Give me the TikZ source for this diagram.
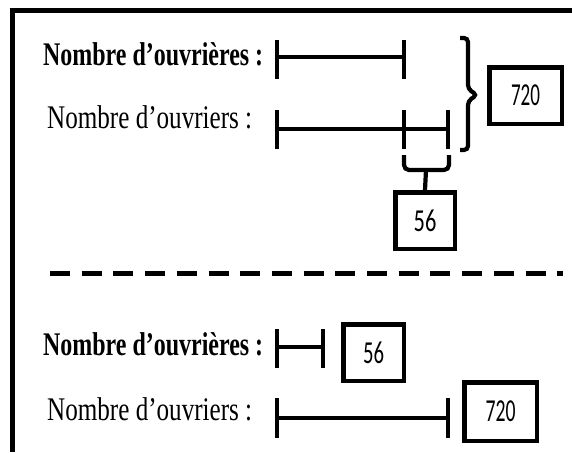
\documentclass[tikz,border=0pt]{standalone}
\usepackage{graphicx}
\usepackage{fontspec}
\setmainfont{Liberation Serif}
\newfontfamily\numfont{Carlito}
\newlength\fitlen
\newcommand\fitw[2]{\settowidth\fitlen{#2}\scalebox{\fpeval{#1/\fitlen}}[1]{#2}}
\begin{document}
\begin{tikzpicture}[x=1pt,y=-1pt,
  lbl/.style={anchor=base west, inner sep=0pt, font=\fontsize{33}{33}\selectfont},
  numbox/.style={draw, line width=4.5pt, inner sep=0pt, font=\numfont\fontsize{32}{32}\selectfont},
  barline/.style={line width=4.2pt},
  frameline/.style={line width=5pt}]
\useasboundingbox (0,0) rectangle (572,452);
% frame
\draw[frameline] (12.5,452) -- (12.5,10.5) -- (572,10.5);
% labels
\node[lbl] (t1) at (43,65) {\fitw{220}{\bfseries Nombre d’ouvrières :}};
\node[lbl] (t2) at (47,128) {\fitw{205}{Nombre d’ouvriers :}};
\node[lbl] (t3) at (43,355) {\fitw{220}{\bfseries Nombre d’ouvrières :}};
\node[lbl] (t4) at (47,420) {\fitw{205}{Nombre d’ouvriers :}};
% bars top
\draw[barline] (277,40) -- (277,79) (404,40) -- (404,79) (277,57) -- (404,57);
\draw[barline] (277,110) -- (277,149) (404,110) -- (404,149) (448,110) -- (448,149) (277,129) -- (448,129);
% right brace
\draw[barline, rounded corners=4pt] (460,38) -- (468,38) -- (468,89) -- (477,95) -- (468,101) -- (468,150) -- (460,150);
% box 720 top
\node[numbox, minimum width=72.5pt, minimum height=56.5pt] (b720a) at (525.5,95.5) {\fitw{29}{720}};
% lower brace
\draw[barline, rounded corners=5pt] (404,155) -- (404,170) -- (449,170) -- (449,155);
\coordinate (bm) at (426,170);
\node[numbox, minimum width=59.5pt, minimum height=56.5pt] (b56a) at (425,220.5) {\fitw{22.7}{56}};
\draw[barline] (bm) -- (b56a.north);
% dashed separator
\coordinate (d1) at (50,273);
\coordinate (d2) at (563,273);
\draw[line width=5pt, dash pattern=on 20pt off 11.7pt] (d1) -- (d2);
% bars bottom
\draw[barline] (277,329) -- (277,368) (323,329) -- (323,368) (277,347) -- (323,347);
\draw[barline] (277,398) -- (277,438) (448,398) -- (448,438) (277,418) -- (448,418);
\node[numbox, minimum width=60.5pt, minimum height=56.5pt] (b56b) at (373.5,352.5) {\fitw{21}{56}};
\node[numbox, minimum width=72.5pt, minimum height=58.5pt] (b720b) at (500.5,411.5) {\fitw{30}{720}};
\end{tikzpicture}
\end{document}
